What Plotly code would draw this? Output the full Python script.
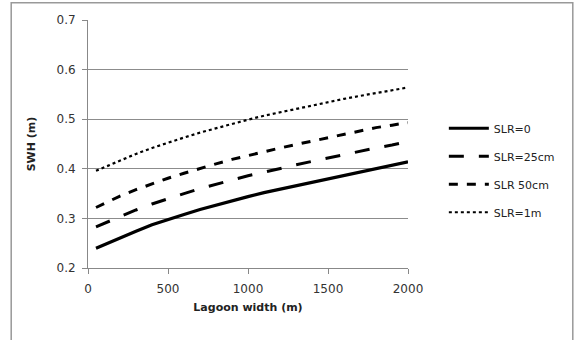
import plotly.graph_objects as go

width_m = [50, 100, 200, 300, 400, 500, 600, 700, 800, 900, 1000,
           1100, 1200, 1300, 1400, 1500, 1600, 1700, 1800, 1900, 2000]
slr_0 = [0.240, 0.247, 0.260, 0.274, 0.287, 0.298, 0.308, 0.318, 0.327, 0.336, 0.344,
         0.352, 0.359, 0.366, 0.373, 0.380, 0.387, 0.394, 0.401, 0.407, 0.414]
slr_25 = [0.283, 0.290, 0.304, 0.317, 0.329, 0.340, 0.350, 0.360, 0.369, 0.378, 0.386,
          0.393, 0.401, 0.408, 0.415, 0.422, 0.429, 0.435, 0.442, 0.448, 0.455]
slr_50 = [0.322, 0.330, 0.345, 0.358, 0.370, 0.381, 0.391, 0.401, 0.410, 0.419, 0.427,
          0.435, 0.442, 0.449, 0.456, 0.463, 0.470, 0.477, 0.483, 0.488, 0.493]
slr_1m = [0.396, 0.403, 0.417, 0.430, 0.442, 0.453, 0.463, 0.473, 0.482, 0.491, 0.499,
          0.507, 0.514, 0.521, 0.528, 0.535, 0.541, 0.547, 0.553, 0.558, 0.564]
series_names = ["SLR=0", "SLR=25cm", "SLR 50cm", "SLR=1m"]
x_ticks = [0, 500, 1000, 1500, 2000]
y_ticks = [0.2, 0.3, 0.4, 0.5, 0.6, 0.7]

styles = [("solid", 3.2), ("longdash", 3), ("dash", 3), ("dot", 2.2)]

fig = go.Figure()
for name, ys, (dash, w) in zip(series_names, [slr_0, slr_25, slr_50, slr_1m], styles):
    fig.add_trace(go.Scatter(x=width_m, y=ys, mode="lines", name=name,
                             legendgroup=name,
                             line=dict(color="black", dash=dash, width=w)))

font = "DejaVu Sans"
fig.update_layout(
    width=576, height=340,
    margin=dict(l=88, r=168, t=20, b=72),
    paper_bgcolor="white", plot_bgcolor="white",
    font=dict(family=font, size=11, color="#333333"),
    showlegend=True,
    legend=dict(x=1.112, y=0.622, xanchor="left", yanchor="top",
                tracegroupgap=9, itemwidth=40,
                font=dict(size=11, color="#222222"),
                bgcolor="rgba(0,0,0,0)"),
    xaxis=dict(range=[0, 2000], tickvals=x_ticks, showgrid=False,
               showline=True, linecolor="#888888", linewidth=1,
               ticks="outside", ticklen=5, tickcolor="#888888",
               zeroline=False, ticklabelstandoff=5,
               tickfont=dict(size=12, color="#333333"),
               title=dict(text="<b>Lagoon width (m)</b>", font=dict(size=11, color="#222222"),
                          standoff=7)),
    yaxis=dict(range=[0.2, 0.7], tickvals=y_ticks, tickformat=".1f",
               showgrid=True, gridcolor="#8c8c8c", gridwidth=1,
               showline=True, linecolor="#888888", linewidth=1,
               ticks="outside", ticklen=5, tickcolor="#888888",
               zeroline=False, ticklabelstandoff=4,
               tickfont=dict(size=12, color="#333333"),
               title=dict(text="<b>SWH (m)</b>", font=dict(size=11, color="#222222"),
                          standoff=18)),
)
fig.add_shape(type="rect", xref="paper", yref="paper",
              x0=-0.24, x1=1.515, y0=-0.35, y1=1.07,
              line=dict(color="#999999", width=1.5), layer="below")

fig.write_html("out.html")
